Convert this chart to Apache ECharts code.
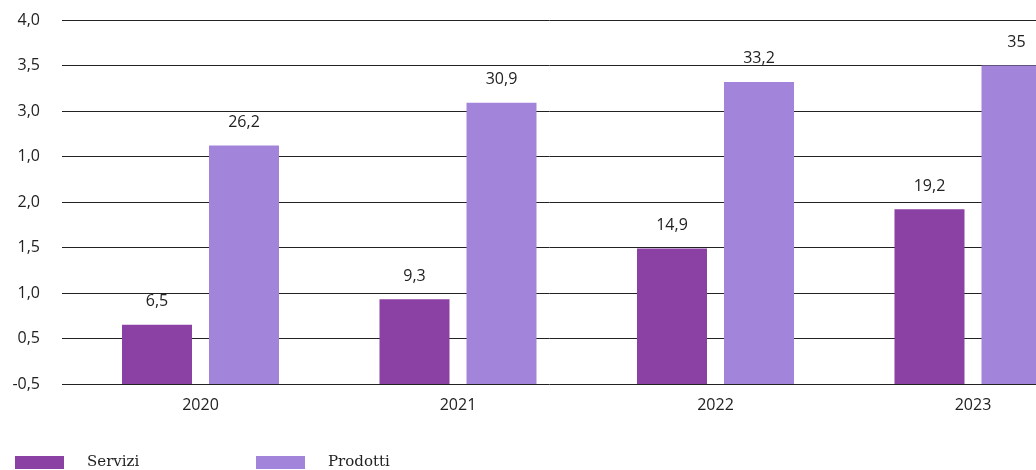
<!DOCTYPE html>
<html>
<head>
<meta charset="utf-8">
<script src="https://cdn.jsdelivr.net/npm/echarts@6/dist/echarts.min.js"></script>
<style>
html,body{margin:0;padding:0;background:#fff;}
#chart{width:1036px;height:470px;}
</style>
</head>
<body>
<div id="chart"></div>
<script>
const categories = ['2020', '2021', '2022', '2023'];
const servizi = [6.5, 9.3, 14.9, 19.2];
const prodotti = [26.2, 30.9, 33.2, 35];
const tickLabels = ['-0,5', '0,5', '1,0', '1,5', '2,0', '1,0', '3,0', '3,5', '4,0'];

const FONT = 'Open Sans';
const TXT = '#222';

const chart = echarts.init(document.getElementById('chart'));
const fmt = v => String(v).replace('.', ',');
chart.setOption({
  animation: false,
  backgroundColor: '#fff',
  grid: [
    { left: 62, top: 20, width: 1100, height: 364, outerBoundsMode: 'none', containLabel: false },
    { left: 71.75, top: 20, width: 1030, height: 364, outerBoundsMode: 'none', containLabel: false }
  ],
  xAxis: [
    { gridIndex: 0, type: 'value', show: false, min: 0, max: 1 },
    {
      gridIndex: 1, type: 'category', data: categories,
      axisLine: { show: false }, axisTick: { show: false },
      axisLabel: { fontFamily: FONT, fontSize: 16, color: TXT, margin: 13 }
    }
  ],
  yAxis: [
    {
      gridIndex: 0, type: 'value', min: 0, max: 40, interval: 5,
      axisLine: { show: false }, axisTick: { show: false },
      axisLabel: {
        fontFamily: FONT, fontSize: 16, color: TXT, margin: 22,
        formatter: (v) => tickLabels[Math.round(v / 5)]
      },
      splitLine: { show: true, lineStyle: { color: '#222', width: 1 } }
    },
    { gridIndex: 1, type: 'value', min: 0, max: 40, interval: 5, show: false }
  ],
  legend: [
    {
      left: 15, top: 453.5, padding: 0, icon: 'rect', itemWidth: 49, itemHeight: 13,
      data: ['Servizi'],
      textStyle: { fontFamily: 'DejaVu Serif', fontSize: 15, color: TXT, lineHeight: 16, padding: [2, 0, 0, 18] }
    },
    {
      left: 256, top: 453.5, padding: 0, icon: 'rect', itemWidth: 49, itemHeight: 13,
      data: ['Prodotti'],
      textStyle: { fontFamily: 'DejaVu Serif', fontSize: 15, color: TXT, lineHeight: 16, padding: [2, 0, 0, 18] }
    }
  ],
  series: [
    {
      name: 'Servizi', type: 'bar', xAxisIndex: 1, yAxisIndex: 1,
      data: servizi, barWidth: 70, barGap: '24.3%',
      itemStyle: { color: '#8B40A3' },
      label: { show: true, position: 'top', distance: 15, fontFamily: FONT, fontSize: 16, color: TXT, formatter: p => fmt(p.value) }
    },
    {
      name: 'Prodotti', type: 'bar', xAxisIndex: 1, yAxisIndex: 1,
      data: prodotti, barWidth: 70, barGap: '24.3%',
      itemStyle: { color: '#A285DB' },
      label: { show: true, position: 'top', distance: 15, fontFamily: FONT, fontSize: 16, color: TXT, formatter: p => fmt(p.value) }
    }
  ]
});
</script>
</body>
</html>
